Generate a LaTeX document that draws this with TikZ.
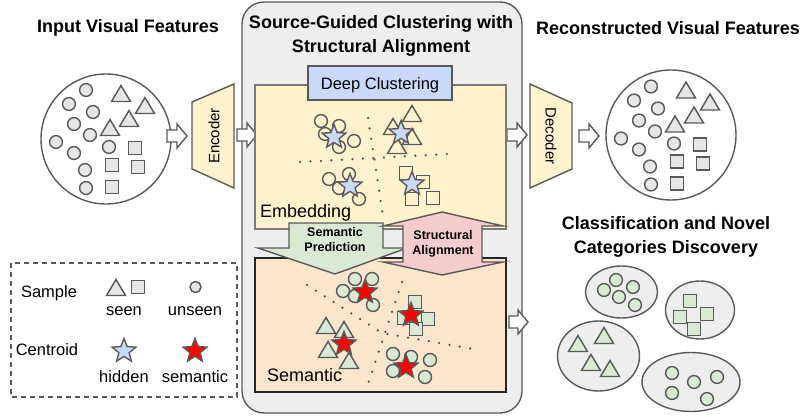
\documentclass[tikz,border=0pt]{standalone}
\usepackage{fontspec}
\setmainfont{Liberation Sans}
\usetikzlibrary{shapes.geometric}
\definecolor{gdark}{HTML}{595959}
\definecolor{panelgray}{HTML}{EEEEEE}
\definecolor{yel}{HTML}{FFF2CC}
\definecolor{lblue}{HTML}{C9DAF8}
\definecolor{lgreen}{HTML}{D9EAD3}
\definecolor{lpink}{HTML}{F4CCCC}
\definecolor{lorange}{HTML}{FCE5CD}
\definecolor{shgray}{HTML}{E6E6E6}
\definecolor{dotc}{HTML}{555555}
\definecolor{sred}{HTML}{FF0000}
\newcommand\Cir[3]{\draw[#1] (#2,#3) circle[radius=6.4];}
\newcommand\Tri[3]{\draw[#1] (#2-9.5,#3+7.5) -- (#2+9.5,#3+7.5) -- (#2,#3-8.5) -- cycle;}
\newcommand\Sqr[3]{\draw[#1] (#2-6.3,#3-6.3) rectangle (#2+6.3,#3+6.3);}
\newcommand\barrow[3]{\draw[barr] (#1,#3-6) -- (#2-10,#3-6) -- (#2-10,#3-12) -- (#2,#3) -- (#2-10,#3+12) -- (#2-10,#3+6) -- (#1,#3+6) -- cycle;}
\newcommand\featurecloud{%
  \foreach \p in {(-20,-49),(-37,-35),(-13,-27),(-32,-15),(-16,-4),(-50,3),(-32,14),(3,8),(-21,31),(-20,49)}
    {\draw[gshp] \p circle[radius=6.4];}
  \Tri{gshp}{15}{-45}\Tri{gshp}{39}{-33}\Tri{gshp}{23}{-20}\Tri{gshp}{4}{-11}
  \Sqr{gshp}{29}{9}\Sqr{gshp}{6}{26}\Sqr{gshp}{32}{28}\Sqr{gshp}{6}{48}}
\begin{document}
\begin{tikzpicture}[x=1pt,y=-1pt,
  ttl/.style={font=\bfseries\fontsize{18}{24}\selectfont, inner sep=0pt},
  lbl/.style={font=\fontsize{16.5}{20}\selectfont, inner sep=0pt},
  sml/.style={font=\bfseries\fontsize{12.5}{15}\selectfont, inner sep=0pt, align=center},
  boxl/.style={draw=gdark, line width=1.4pt},
  gshp/.style={draw=gdark, line width=1.45pt, fill=shgray},
  eshp/.style={draw=gdark, line width=1.45pt},
  sshp/.style={draw=gdark, line width=1.45pt, fill=lgreen},
  barr/.style={draw=gdark, line width=1.4pt, fill=white},
  dotl/.style={draw=dotc, line width=2.5pt, line cap=round, dash pattern=on 0pt off 10.5pt},
  cstar/.style={star, star points=5, star point ratio=2.3, minimum size=25pt, inner sep=0pt, draw=gdark, line width=1.4pt}
]
\useasboundingbox (0,0) rectangle (803,417);

% titles
\node[ttl] (tin) at (128,28) {Input Visual Features};
\node[ttl] (tout) at (668,28) {Reconstructed Visual Features};

% center panel
\draw[boxl, fill=panelgray, rounded corners=22pt] (242,2) rectangle (522,413);
\node[ttl, align=center] (tmid) at (381,36) {Source-Guided Clustering with\\Structural Alignment};

% input cloud
\draw[boxl] (106,139) circle[radius=65];
\begin{scope}[shift={(106,139)}]\featurecloud\end{scope}
% output cloud
\draw[boxl] (671,135) circle[radius=65];
\begin{scope}[shift={(671,135.5)}]\featurecloud\end{scope}

% encoder / decoder
\draw[boxl, fill=yel] (192,102) -- (234,84) -- (234,188) -- (192,169) -- cycle;
\node[lbl, rotate=90, font=\fontsize{15}{18}\selectfont] (enc) at (214,136) {Encoder};
\draw[boxl, fill=yel] (530,84) -- (572,103) -- (572,169) -- (530,188) -- cycle;
\node[lbl, rotate=-90, font=\fontsize{15}{18}\selectfont] (dec) at (551,136) {Decoder};

\barrow{167}{187}{136}
\barrow{237}{257}{135}
\barrow{507}{527}{135}
\barrow{579}{599}{136}
\barrow{509}{528}{322}

% embedding box
\draw[boxl, draw=gdark!80, fill=yel] (255,85) rectangle (506,229);
\draw[boxl, fill=lblue] (308,66) rectangle (452,100);
\node[lbl, anchor=base, font=\fontsize{16.5}{20}\selectfont] (dc) at (380,90) {Deep Clustering};
\node[lbl, anchor=base west, font=\fontsize{18}{22}\selectfont] (emb) at (260,217) {Embedding};

\draw[dotl] (368,118) -- (383,216);
\draw[dotl] (300,162) -- (447,154);

\foreach \p in {(321,121),(339,126),(325,134),(339,147),(354,141),(329,179),(349,174),(339,188),(359,199)}
  {\draw[eshp] \p circle[radius=6.4];}
\Tri{eshp}{412}{114}\Tri{eshp}{393}{127}\Tri{eshp}{412}{137}\Tri{eshp}{397}{146}
\Sqr{eshp}{406}{173}\Sqr{eshp}{423}{182}\Sqr{eshp}{412}{199}\Sqr{eshp}{433}{198}
\node[cstar, fill=lblue] (h1) at (334,137) {};
\node[cstar, fill=lblue] (h2) at (401,133) {};
\node[cstar, fill=lblue] (h3) at (350,186) {};
\node[cstar, fill=lblue] (h4) at (412,184) {};

% semantic box
\draw[line width=1.5pt, draw=black!85, fill=lorange] (255,258) rectangle (506,392);
\node[lbl, anchor=base west, font=\fontsize{18}{22}\selectfont] (sem) at (267,381) {Semantic};

\draw[dotl] (307,285) -- (382,333) -- (473,349);
\draw[dotl] (402,282) -- (367,387);

\foreach \p in {(355,279),(372,279),(343,291),(355,296),(373,305),(393,354),(411,357),(430,360),(393,371),(425,377)}
  {\draw[sshp] \p circle[radius=6.5];}
\Sqr{sshp}{415}{302}\Sqr{sshp}{404}{318}\Sqr{sshp}{428}{319}\Sqr{sshp}{416}{329}
\Tri{sshp}{326}{326}\Tri{sshp}{344}{330}\Tri{sshp}{328}{350}\Tri{sshp}{349}{361}
\node[cstar, fill=sred] (r1) at (365,292) {};
\node[cstar, fill=sred] (r2) at (411,315) {};
\node[cstar, fill=sred] (r3) at (344,344) {};
\node[cstar, fill=sred] (r4) at (406,367) {};

% semantic prediction arrow
\draw[boxl, fill=lgreen] (289,223) -- (383,223) -- (383,248) -- (407,248) -- (335,274) -- (258,248) -- (289,248) -- cycle;
\node[sml] (sp) at (335,240) {Semantic\\Prediction};
% structural alignment arrow
\draw[boxl, fill=lpink] (442,212) -- (503,226) -- (482,226) -- (482,262) -- (503,262) -- (442,275) -- (383,262) -- (403,262) -- (403,226) -- (383,226) -- cycle;
\node[sml] (sa) at (443,244) {Structural\\Alignment};

% legend
\draw[draw=gdark, line width=1.3pt, dash pattern=on 5pt off 4pt] (11,263) rectangle (237,397);
\node[lbl, anchor=base] (lsample) at (49,297) {Sample};
\node[lbl, anchor=base] (lcent) at (47,355) {Centroid};
\node[lbl, anchor=base] (lseen) at (124,315) {seen};
\node[lbl, anchor=base] (lunseen) at (195,315) {unseen};
\node[lbl, anchor=base] (lhid) at (124,382) {hidden};
\node[lbl, anchor=base] (lsem) at (195,382) {semantic};
\Tri{gshp}{116}{288}
\Sqr{gshp}{138}{287}
\draw[gshp] (195.5,287) circle[radius=5.5];
\node[cstar, fill=lblue] (lh) at (124,351) {};
\node[cstar, fill=sred] (lr) at (195,351) {};

% classification
\node[ttl, align=center] (tcls) at (666,237) {Classification and Novel\\Categories Discovery};
\draw[boxl, fill=panelgray] (621.5,292) ellipse[x radius=36, y radius=26];
\draw[boxl, fill=panelgray] (700,310) ellipse[x radius=34.5, y radius=29];
\draw[boxl, fill=panelgray] (598.5,356) ellipse[x radius=41, y radius=35];
\draw[boxl, fill=panelgray] (691,382) ellipse[x radius=49, y radius=29.5];
\foreach \p in {(616,280),(604,290),(633,287),(619,297),(635,305),(672,373),(694,382),(717,377),(672,393),(707,399)}
  {\draw[sshp] \p circle[radius=6.4];}
\Sqr{sshp}{690}{301}\Sqr{sshp}{680}{317}\Sqr{sshp}{707}{314}\Sqr{sshp}{694}{329}
\Tri{sshp}{604}{336}\Tri{sshp}{578}{344}\Tri{sshp}{591}{363}\Tri{sshp}{610}{369}
\end{tikzpicture}
\end{document}
